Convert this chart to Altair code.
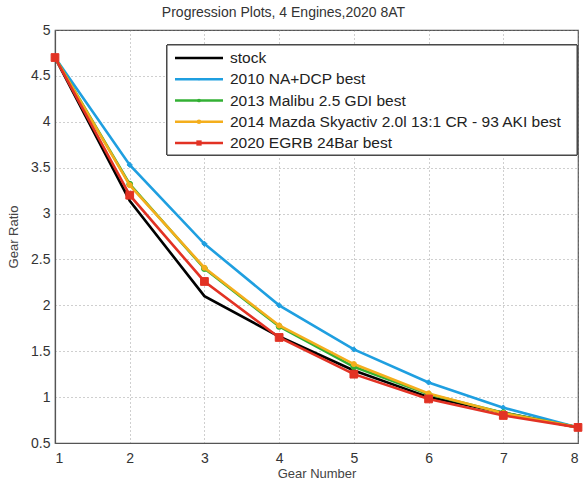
import altair as alt
import pandas as pd

# Gear progression for each engine configuration
gears = [1, 2, 3, 4, 5, 6, 7, 8]
series_names = [
    "stock",
    "2010 NA+DCP best",
    "2013 Malibu 2.5 GDI best",
    "2014 Mazda Skyactiv 2.0l 13:1 CR - 93 AKI best",
    "2020 EGRB 24Bar best",
]
stock = [4.70, 3.14, 2.10, 1.66, 1.29, 1.00, 0.83, 0.67]
na_dcp = [4.70, 3.53, 2.67, 2.00, 1.52, 1.16, 0.885, 0.67]
malibu = [4.70, 3.32, 2.40, 1.77, 1.33, 1.03, 0.83, 0.67]
mazda = [4.70, 3.31, 2.41, 1.78, 1.36, 1.04, 0.825, 0.67]
egrb = [4.70, 3.20, 2.26, 1.65, 1.25, 0.98, 0.80, 0.67]
values = [stock, na_dcp, malibu, mazda, egrb]

colors = ["#000000", "#1f9fe0", "#33b034", "#f4ae1c", "#e23224"]
shapes = ["circle", "diamond", "circle", "circle", "square"]
marker_sizes = [0, 28, 34, 26, 60]

FONT = "Liberation Sans"

rows = []
for name, vals in zip(series_names, values):
    for g, v in zip(gears, vals):
        rows.append({"gear": g, "ratio": v, "series": name})
df = pd.DataFrame(rows)

color_scale = alt.Scale(domain=series_names, range=colors)
shape_scale = alt.Scale(domain=series_names, range=shapes)
size_scale = alt.Scale(domain=series_names, range=marker_sizes)

x_enc = alt.X(
    "gear:Q",
    scale=alt.Scale(domain=[1, 8], nice=False),
    axis=alt.Axis(values=gears, format="d", title="Gear Number",
                  titlePadding=2, labelPadding=8),
)
y_enc = alt.Y(
    "ratio:Q",
    scale=alt.Scale(domain=[0.5, 5], nice=False, zero=False),
    axis=alt.Axis(values=[0.5 + 0.5 * i for i in range(10)], format="~g",
                  title="Gear Ratio", titlePadding=10, labelPadding=5),
)

layers = []
for i, name in enumerate(series_names):
    base = alt.Chart(df).transform_filter(alt.datum.series == name)
    layers.append(
        base.mark_line(strokeWidth=2.6, color=colors[i]).encode(x=x_enc, y=y_enc)
    )
    if marker_sizes[i] > 0:
        layers.append(
            base.mark_point(filled=True, opacity=1, shape=shapes[i],
                            size=marker_sizes[i], color=colors[i],
                            stroke=colors[i], strokeWidth=1)
            .encode(x=x_enc, y=y_enc)
        )
main = alt.layer(*layers)

# Boxed legend in the upper right of the plot
legend_df = pd.DataFrame({"series": series_names, "order": list(range(len(series_names)))})
legend_y = alt.Y("order:Q", scale=alt.Scale(domain=[0, 4], range=[28, 113]), axis=None)

box = alt.Chart(legend_df).mark_rect(fill="white", stroke="#444", strokeWidth=1).encode(
    x=alt.value(112), x2=alt.value(522), y=alt.value(15), y2=alt.value(125)
)
leg_lines = alt.Chart(legend_df).mark_rule(strokeWidth=2.6).encode(
    x=alt.value(120), x2=alt.value(168), y=legend_y,
    color=alt.Color("series:N", scale=color_scale, legend=None),
)
leg_points = (
    alt.Chart(legend_df)
    .transform_filter(alt.datum.series != "stock")
    .mark_point(filled=True, opacity=1)
    .encode(
        x=alt.value(144), y=legend_y,
        color=alt.Color("series:N", scale=color_scale, legend=None),
        shape=alt.Shape("series:N", scale=shape_scale, legend=None),
        size=alt.Size("series:N", scale=size_scale, legend=None),
    )
)
leg_text = alt.Chart(legend_df).mark_text(
    align="left", baseline="middle", font=FONT, fontSize=15.5, color="#222"
).encode(x=alt.value(175), y=legend_y, text="series:N")

legend = alt.layer(box, leg_lines, leg_points, leg_text)

chart = (
    alt.layer(main, legend)
    .resolve_scale(y="independent")
    .properties(
        width=523,
        height=413,
        autosize=alt.AutoSizeParams(type="none"),
        padding={"left": 55, "top": 30, "right": 6, "bottom": 43},
        title=alt.TitleParams("Progression Plots, 4 Engines,2020 8AT",
                              font=FONT, fontSize=14, fontWeight="normal",
                              color="#333", offset=3, dx=-33),
        background="white",
    )
    .configure_view(stroke="#555", strokeWidth=1.2)
    .configure_axis(
        labelFont=FONT, labelFontSize=14, labelColor="#333",
        titleFont=FONT, titleFontSize=13, titleFontWeight="normal", titleColor="#444",
        ticks=False, domainColor="#555", domainWidth=1.2,
        grid=True, gridColor="#888", gridDash=[1, 3], gridWidth=1, gridOpacity=0.8,
    )
)

chart.save("out.html", embed_options={"renderer": "svg", "actions": False})
